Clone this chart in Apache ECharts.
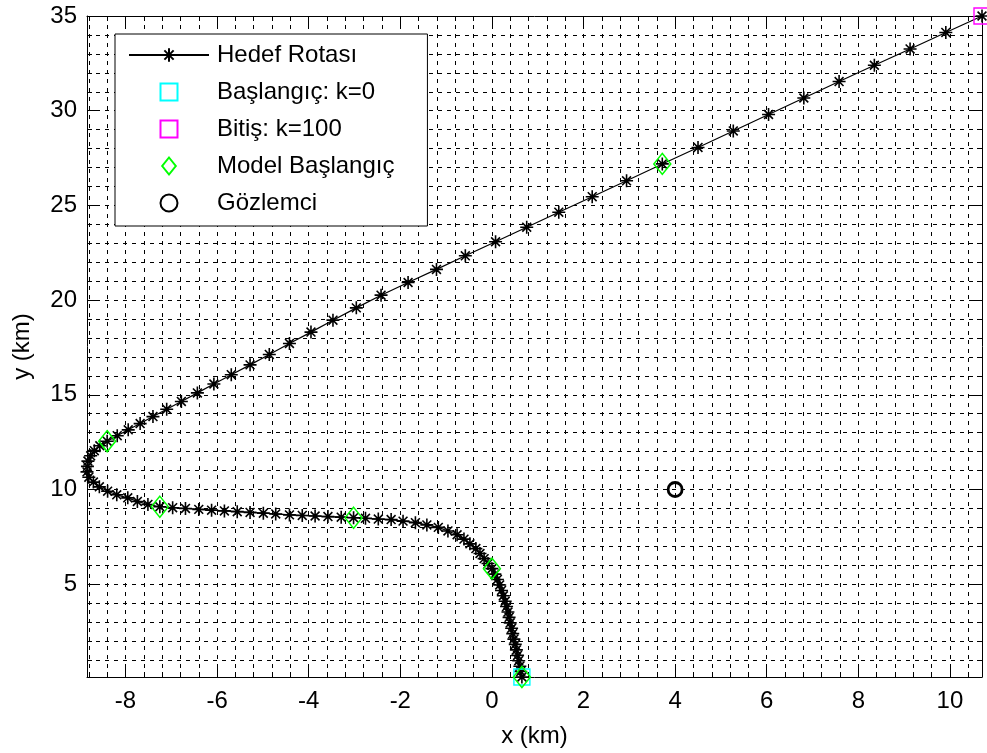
<!DOCTYPE html>
<html>
<head>
<meta charset="utf-8">
<script src="https://cdn.jsdelivr.net/npm/echarts@6/dist/echarts.min.js"></script>
<style>
  html, body { margin: 0; padding: 0; background: #fff; }
  #main { width: 987px; height: 753px; }
</style>
</head>
<body>
<div id="main"></div>
<script>
// Target route, one sample per time step k = 0 … 100 (km)
const routeX = [
  0.655, 0.63, 0.61, 0.585, 0.56, 0.535, 0.51, 0.48, 0.455, 0.43, 0.40,
  0.375, 0.35, 0.32, 0.29, 0.25, 0.21, 0.17, 0.12, 0.065, 0.00,
  -0.085, -0.17, -0.26, -0.35, -0.48, -0.61, -0.76, -0.96, -1.17, -1.42,
  -1.67, -1.94, -2.20, -2.48, -2.76, -3.02,
  -3.29, -3.58, -3.86, -4.14, -4.42, -4.72, -4.99, -5.28, -5.56, -5.84,
  -6.12, -6.40, -6.69, -6.97, -7.25,
  -7.51, -7.74, -7.95, -8.19, -8.39, -8.57, -8.70, -8.80, -8.84, -8.83,
  -8.82, -8.76, -8.68, -8.56, -8.40,
  -8.18, -7.94, -7.68, -7.40, -7.10, -6.78, -6.43, -6.07, -5.69, -5.28,
  -4.86, -4.42, -3.95, -3.47, -2.96, -2.42, -1.83, -1.21, -0.58, 0.08,
  0.76, 1.46, 2.19, 2.94, 3.72,
  4.50, 5.27, 6.04, 6.81, 7.58, 8.35, 9.13, 9.91, 10.70
];
const routeY = [
  0.10, 0.39, 0.67, 0.96, 1.24, 1.53, 1.82, 2.10, 2.39, 2.67, 2.96,
  3.25, 3.53, 3.82, 4.10, 4.39, 4.67, 4.96, 5.25, 5.53, 5.82,
  6.09, 6.35, 6.62, 6.88, 7.13, 7.38, 7.61, 7.81, 8.00, 8.13,
  8.25, 8.33, 8.41, 8.44, 8.48, 8.51,
  8.54, 8.57, 8.60, 8.63, 8.66, 8.71, 8.75, 8.79, 8.83, 8.87,
  8.91, 8.95, 9.00, 9.04, 9.09,
  9.21, 9.37, 9.56, 9.72, 9.91, 10.14, 10.39, 10.65, 10.93, 11.22,
  11.50, 11.78, 12.05, 12.31, 12.55,
  12.84, 13.15, 13.48, 13.85, 14.24, 14.65, 15.10, 15.57, 16.06, 16.58,
  17.13, 17.71, 18.31, 18.94, 19.59, 20.26, 20.93, 21.62, 22.34, 23.08,
  23.85, 24.64, 25.46, 26.30, 27.19,
  28.06, 28.93, 29.80, 30.67, 31.54, 32.40, 33.26, 34.13, 35.00
];

// Steps where a new motion model starts
const modelStartK = [0, 20, 36, 51, 66, 91];
const startK = 0;
const endK = 100;

// Observer position (km)
const observerX = [4];
const observerY = [10];

// Legend entries
const seriesNames = ['Hedef Rotası', 'Başlangıç: k=0', 'Bitiş: k=100', 'Model Başlangıç', 'Gözlemci'];

// Axis limits and tick steps
const xLimits = [-8.84, 10.70];
const yLimits = [0.10, 35.0];
const xMajorStep = 2, yMajorStep = 5;
const minorDivisions = 5;   // x: 0.4 km, y: 1 km

const FONT = '"Liberation Sans", Arial, sans-serif';
const FS = 24;
const STAR = 'path://M5,0L5,10M0,5L10,5M1.6,1.6L8.4,8.4M1.6,8.4L8.4,1.6';
const SQUARE = 'path://M0,0L16,0L16,16L0,16Z';
const DIAMOND = 'path://M8,0L16,10L8,20L0,10Z';

const pairs = (xs, ys) => xs.map((x, i) => [x, ys[i]]);
const route = pairs(routeX, routeY);

const gridDash = { color: '#000', width: 1, type: [4, 5] };

function xAxisDef(pos, withLabels) {
  return {
    type: 'value', position: pos, gridIndex: 0,
    min: xLimits[0], max: xLimits[1],
    minInterval: xMajorStep, maxInterval: xMajorStep,
    name: withLabels ? 'x (km)' : '',
    nameLocation: 'middle', nameGap: 47,
    nameTextStyle: { fontSize: FS, color: '#000', fontFamily: FONT },
    axisLine: { show: true, onZero: false, lineStyle: { color: '#000', width: 1 } },
    axisTick: { show: true, inside: true, length: 9, lineStyle: { color: '#000', width: 1 } },
    minorTick: { show: true, splitNumber: minorDivisions, length: 5, lineStyle: { color: '#000', width: 1 } },
    axisLabel: { show: withLabels, showMinLabel: false, showMaxLabel: false,
                 fontSize: FS, color: '#000', fontFamily: FONT, margin: 12 },
    splitLine: { show: withLabels, lineStyle: gridDash },
    minorSplitLine: { show: withLabels, lineStyle: gridDash }
  };
}
function yAxisDef(pos, withLabels) {
  return {
    type: 'value', position: pos, gridIndex: 0,
    min: yLimits[0], max: yLimits[1],
    minInterval: yMajorStep, maxInterval: yMajorStep,
    name: withLabels ? 'y (km)' : '',
    nameLocation: 'middle', nameGap: 53,
    nameTextStyle: { fontSize: FS, color: '#000', fontFamily: FONT },
    axisLine: { show: true, onZero: false, lineStyle: { color: '#000', width: 1 } },
    axisTick: { show: true, inside: true, length: 9, lineStyle: { color: '#000', width: 1 } },
    minorTick: { show: true, splitNumber: minorDivisions, length: 5, lineStyle: { color: '#000', width: 1 } },
    axisLabel: { show: withLabels, showMinLabel: false, showMaxLabel: true,
                 fontSize: FS, color: '#000', fontFamily: FONT, margin: 10 },
    splitLine: { show: withLabels, lineStyle: gridDash },
    minorSplitLine: { show: withLabels, lineStyle: gridDash }
  };
}

const chart = echarts.init(document.getElementById('main'), null, { renderer: 'canvas' });
chart.setOption({
  animation: false,
  backgroundColor: '#fff',
  grid: { left: 87, right: 5, top: 16, bottom: 75, containLabel: false },
  xAxis: [xAxisDef('bottom', true), xAxisDef('top', false)],
  yAxis: [yAxisDef('left', true), yAxisDef('right', false)],
  legend: {
    orient: 'vertical', left: 115, top: 34,
    padding: [9, 33, 11, 13],
    itemGap: 13, itemWidth: 80, itemHeight: 17,
    symbolKeepAspect: true,
    backgroundColor: '#fff', borderColor: '#000', borderWidth: 1, borderRadius: 0,
    textStyle: { fontSize: FS, color: '#000', fontFamily: FONT, padding: [0, 0, 0, 3] },
    data: seriesNames
  },
  series: [
    {
      name: seriesNames[0], type: 'line', data: route,
      clip: false, showAllSymbol: true,
      symbol: STAR, symbolSize: 13,
      lineStyle: { color: '#000', width: 1.2 },
      itemStyle: { color: '#000', borderColor: '#000', borderWidth: 1.6 },
      z: 2
    },
    {
      name: seriesNames[1], type: 'scatter', data: [route[startK]],
      clip: false, symbol: SQUARE, symbolSize: 16,
      itemStyle: { color: 'rgba(0,0,0,0)', borderColor: '#00ffff', borderWidth: 1.4, opacity: 1 },
      z: 3
    },
    {
      name: seriesNames[2], type: 'scatter', data: [route[endK]],
      clip: false, symbol: SQUARE, symbolSize: 16,
      itemStyle: { color: 'rgba(0,0,0,0)', borderColor: '#ff00ff', borderWidth: 1.4, opacity: 1 },
      z: 3
    },
    {
      name: seriesNames[3], type: 'scatter', data: modelStartK.map(k => route[k]),
      clip: false, symbol: DIAMOND, symbolSize: [17, 21],
      itemStyle: { color: 'rgba(0,0,0,0)', borderColor: '#00ff00', borderWidth: 1.5, opacity: 1 },
      z: 3
    },
    {
      name: seriesNames[4], type: 'scatter', data: pairs(observerX, observerY),
      clip: false, symbol: 'circle', symbolSize: 14,
      itemStyle: { color: 'rgba(0,0,0,0)', borderColor: '#000', borderWidth: 2.8, opacity: 1 },
      z: 3
    }
  ]
});
</script>
</body>
</html>
